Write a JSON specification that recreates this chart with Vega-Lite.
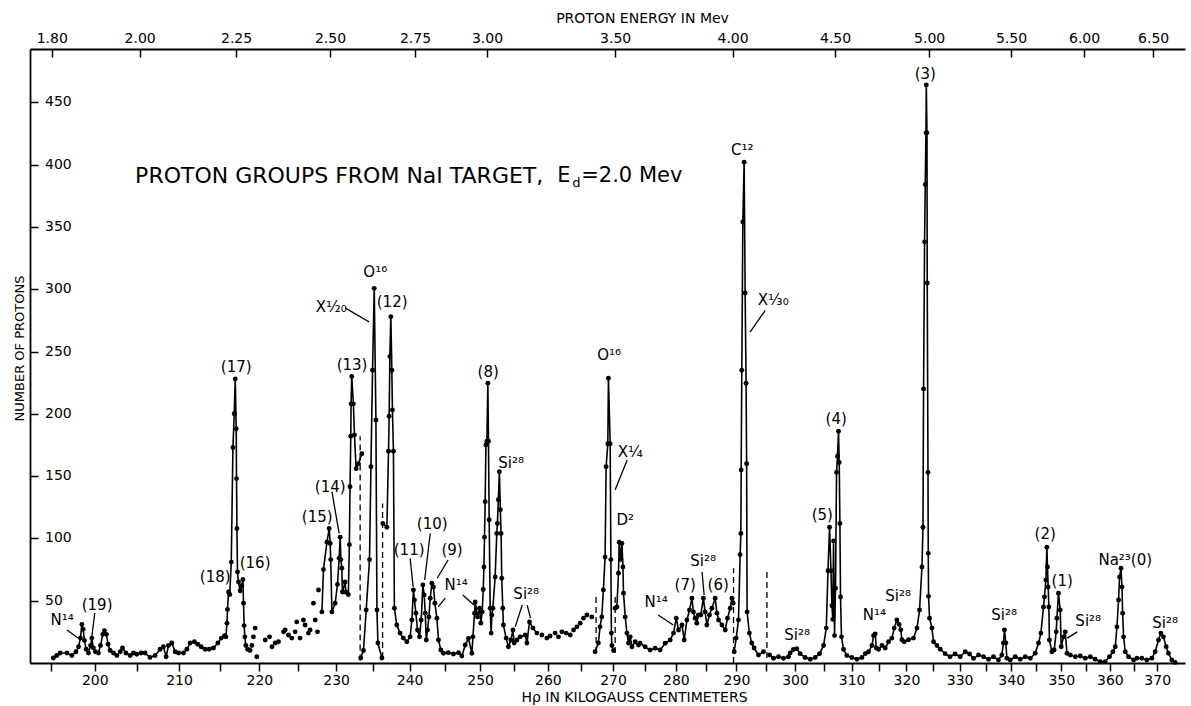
{
"$schema": "https://vega.github.io/schema/vega-lite/v6.json",
"width": 1155, "height": 614,
"autosize": {"type": "none"},
"padding": {"left": 30, "top": 49, "right": 6, "bottom": 43},
"background": "white",
"config": {"view": {"stroke": null}, "font": "DejaVu Sans",
 "axis": {"grid": false, "domainColor": "black", "tickColor": "black", "labelColor": "black", "titleColor": "black", "labelFont": "DejaVu Sans", "titleFont": "DejaVu Sans", "titleFontWeight": "normal", "domainWidth": 1.8, "tickWidth": 1.5, "labelFlush": false, "labelOverlap": false},
 "text": {"font": "DejaVu Sans", "color": "black"}},
"datasets": {
"spec": [
{"H":195.26,"n":4,"s":1},{"H":195.65,"n":6,"s":1},{"H":196.03,"n":8,"s":1},{"H":196.80,"n":8,"s":1},{"H":197.37,"n":6,"s":1},{"H":197.83,"n":9,"s":1},{"H":198.13,"n":13,"s":1},{"H":198.35,"n":20,"s":1},{"H":198.52,"n":31,"s":1},{"H":198.66,"n":27,"s":1},{"H":198.81,"n":18,"s":1},{"H":199.01,"n":11,"s":1},{"H":199.27,"n":8,"s":1},{"H":199.52,"n":14,"s":1},{"H":199.66,"n":20,"s":1},{"H":199.84,"n":12,"s":1},{"H":200.07,"n":9,"s":1},{"H":200.42,"n":8,"s":1},{"H":200.67,"n":14,"s":1},{"H":200.93,"n":23,"s":1},{"H":201.12,"n":26,"s":1},{"H":201.35,"n":23,"s":1},{"H":201.55,"n":15,"s":1},{"H":201.79,"n":10,"s":1},{"H":202.18,"n":8,"s":1},{"H":202.58,"n":6,"s":1},{"H":202.97,"n":9,"s":1},{"H":203.24,"n":12,"s":1},{"H":203.64,"n":8,"s":1},{"H":204.14,"n":6,"s":1},{"H":204.53,"n":8,"s":1},{"H":204.93,"n":7,"s":1},{"H":205.44,"n":8,"s":1},{"H":205.91,"n":8,"s":1},{"H":206.50,"n":4.5,"s":1},{"H":207.11,"n":6,"s":1},{"H":207.71,"n":11,"s":1},{"H":208.11,"n":13,"s":1},{"H":208.44,"n":5,"s":1},{"H":208.72,"n":14,"s":1},{"H":209.13,"n":16,"s":1},{"H":209.54,"n":9,"s":1},{"H":209.94,"n":8,"s":1},{"H":210.54,"n":8,"s":1},{"H":210.96,"n":11,"s":1},{"H":211.36,"n":16,"s":1},{"H":211.88,"n":17,"s":1},{"H":212.29,"n":15,"s":1},{"H":212.70,"n":13,"s":1},{"H":213.20,"n":11,"s":1},{"H":213.70,"n":11,"s":1},{"H":214.23,"n":12,"s":1},{"H":214.78,"n":16,"s":1},{"H":215.20,"n":20,"s":1},{"H":215.61,"n":22,"s":1},{"H":215.78,"n":21,"s":1},{"H":215.91,"n":32,"s":1},{"H":215.98,"n":43,"s":1},{"H":216.11,"n":57,"s":1},{"H":216.26,"n":55,"s":1},{"H":216.45,"n":81,"s":1},{"H":216.66,"n":173,"s":1},{"H":216.82,"n":200,"s":1},{"H":216.95,"n":228,"s":1},{"H":217.07,"n":188,"s":1},{"H":217.11,"n":148,"s":1},{"H":217.16,"n":108,"s":1},{"H":217.23,"n":73,"s":1},{"H":217.36,"n":65,"s":1},{"H":217.57,"n":58,"s":1},{"H":217.78,"n":62,"s":1},{"H":217.91,"n":67,"s":1},{"H":217.99,"n":48,"s":1},{"H":218.07,"n":30,"s":1},{"H":218.16,"n":21,"s":1},{"H":218.28,"n":14,"s":1},{"H":218.51,"n":11,"s":1},{"H":218.82,"n":10,"s":1},
{"H":219.04,"n":14,"s":0},{"H":219.24,"n":21,"s":0},{"H":219.46,"n":28,"s":0},{"H":219.68,"n":5,"s":0},{"H":220.75,"n":18.5,"s":0},{"H":221.30,"n":21,"s":0},{"H":221.61,"n":13,"s":0},{"H":222.03,"n":16,"s":0},{"H":222.45,"n":17,"s":0},{"H":223.10,"n":25,"s":0},{"H":223.31,"n":26.5,"s":0},{"H":223.74,"n":22.5,"s":0},{"H":224.17,"n":20,"s":0},{"H":224.60,"n":25,"s":0},{"H":224.82,"n":33,"s":0},{"H":225.24,"n":20,"s":0},{"H":225.68,"n":34.5,"s":0},{"H":225.90,"n":30.5,"s":0},{"H":226.34,"n":24,"s":0},{"H":226.56,"n":26.5,"s":0},{"H":227.00,"n":48,"s":0},{"H":227.23,"n":34.5,"s":0},{"H":227.53,"n":25,"s":0},{"H":227.66,"n":58.6,"s":0},
{"H":228.11,"n":41,"s":2},{"H":228.32,"n":75,"s":2},{"H":228.78,"n":97,"s":2},{"H":229.08,"n":108,"s":2},{"H":229.21,"n":96,"s":2},{"H":229.28,"n":83,"s":2},{"H":229.44,"n":41,"s":2},{"H":229.87,"n":48,"s":2},{"H":230.18,"n":63,"s":2},{"H":230.40,"n":84,"s":2},{"H":230.54,"n":101,"s":2},{"H":230.63,"n":83,"s":2},{"H":230.76,"n":76,"s":2},{"H":230.84,"n":57,"s":2},{"H":231.20,"n":65,"s":2},{"H":231.29,"n":57,"s":2},{"H":231.63,"n":55,"s":2},{"H":231.77,"n":95,"s":2},{"H":231.86,"n":141.5,"s":2},{"H":231.96,"n":182,"s":2},{"H":232.00,"n":208,"s":2},{"H":232.09,"n":230,"s":2},{"H":232.31,"n":208,"s":2},{"H":232.45,"n":183,"s":2},{"H":232.68,"n":156,"s":2},{"H":232.99,"n":160,"s":2},{"H":233.45,"n":168,"s":2},
{"H":233.29,"n":4,"s":3},{"H":233.67,"n":10,"s":3},{"H":234.04,"n":42.5,"s":3},{"H":234.49,"n":83,"s":3},{"H":234.68,"n":157.5,"s":3},{"H":234.90,"n":235,"s":3},{"H":235.13,"n":300.7,"s":3},{"H":235.36,"n":195,"s":3},{"H":235.50,"n":42.5,"s":3},{"H":235.63,"n":16,"s":3},{"H":236.18,"n":4,"s":3},
{"H":236.31,"n":112,"s":4},{"H":236.86,"n":109,"s":4},{"H":237.08,"n":170,"s":4},{"H":237.17,"n":198,"s":4},{"H":237.27,"n":246,"s":4},{"H":237.40,"n":278,"s":4},{"H":237.54,"n":235,"s":4},{"H":237.62,"n":203,"s":4},{"H":237.76,"n":170,"s":4},{"H":237.89,"n":44,"s":4},{"H":238.22,"n":30.5,"s":4},{"H":238.67,"n":24,"s":4},{"H":239.13,"n":20,"s":4},{"H":239.61,"n":17,"s":4},{"H":240.07,"n":21,"s":4},{"H":240.31,"n":34.5,"s":4},{"H":240.53,"n":58.6,"s":4},{"H":240.67,"n":50.6,"s":4},{"H":240.87,"n":40,"s":4},{"H":241.10,"n":26.5,"s":4},{"H":241.38,"n":21,"s":4},{"H":241.61,"n":34.5,"s":4},{"H":241.85,"n":62.6,"s":4},{"H":242.03,"n":54.6,"s":4},{"H":242.18,"n":40,"s":4},{"H":242.32,"n":18.5,"s":4},{"H":242.50,"n":26.5,"s":4},{"H":242.69,"n":37,"s":4},{"H":242.88,"n":52,"s":4},{"H":243.11,"n":64,"s":4},{"H":243.34,"n":61,"s":4},{"H":243.53,"n":48,"s":4},{"H":243.82,"n":36,"s":4},{"H":244.04,"n":18.5,"s":4},{"H":244.38,"n":10.4,"s":4},{"H":244.74,"n":7.8,"s":4},{"H":245.44,"n":8.3,"s":4},{"H":246.16,"n":7.2,"s":4},{"H":246.88,"n":8.3,"s":4},{"H":247.37,"n":5.6,"s":4},{"H":247.85,"n":14.4,"s":4},{"H":248.32,"n":19.8,"s":4},{"H":248.81,"n":7.8,"s":4},{"H":248.96,"n":21,"s":4},{"H":249.19,"n":40,"s":4},{"H":249.29,"n":49,"s":4},{"H":249.62,"n":37,"s":4},{"H":249.91,"n":44,"s":4},{"H":250.11,"n":32,"s":4},{"H":250.30,"n":41,"s":4},{"H":250.45,"n":59,"s":4},{"H":250.55,"n":77,"s":4},{"H":250.63,"n":101,"s":4},{"H":250.73,"n":129.5,"s":4},{"H":250.84,"n":175,"s":4},{"H":250.98,"n":178,"s":4},{"H":251.12,"n":224.5,"s":4},{"H":251.21,"n":178,"s":4},{"H":251.31,"n":115,"s":4},{"H":251.46,"n":44,"s":4},{"H":251.60,"n":24,"s":4},{"H":251.70,"n":38.5,"s":4},{"H":251.85,"n":44,"s":4},{"H":252.18,"n":69,"s":4},{"H":252.42,"n":104,"s":4},{"H":252.51,"n":112,"s":4},{"H":252.65,"n":131,"s":4},{"H":252.80,"n":153.5,"s":4},{"H":252.94,"n":123,"s":4},{"H":253.05,"n":104,"s":4},{"H":253.15,"n":68,"s":4},{"H":253.30,"n":44,"s":4},{"H":253.39,"n":30.5,"s":4},{"H":253.79,"n":20,"s":4},{"H":254.13,"n":13,"s":4},{"H":254.49,"n":18.5,"s":4},{"H":254.79,"n":26.5,"s":4},{"H":254.98,"n":16,"s":4},{"H":255.38,"n":18.5,"s":4},{"H":255.87,"n":21,"s":4},{"H":256.62,"n":22.5,"s":4},{"H":256.87,"n":16,"s":4},{"H":257.25,"n":33,"s":4},{"H":257.76,"n":28,"s":4},{"H":258.35,"n":24,"s":4},
{"H":259.10,"n":22.5,"s":0},{"H":259.84,"n":20,"s":0},{"H":260.33,"n":21.7,"s":0},{"H":261.09,"n":24,"s":0},{"H":261.60,"n":21,"s":0},{"H":262.12,"n":25,"s":0},{"H":262.77,"n":24,"s":0},{"H":263.39,"n":22.5,"s":0},{"H":263.89,"n":26.5,"s":0},{"H":264.41,"n":29,"s":0},{"H":264.91,"n":32,"s":0},{"H":265.42,"n":36,"s":0},{"H":265.94,"n":38.5,"s":0},{"H":266.70,"n":37,"s":0},
{"H":267.21,"n":9,"s":5},{"H":267.71,"n":16,"s":5},{"H":267.97,"n":29,"s":5},{"H":268.24,"n":37,"s":5},{"H":268.49,"n":58.6,"s":5},{"H":268.76,"n":85,"s":5},{"H":268.92,"n":157.5,"s":5},{"H":269.18,"n":176,"s":5},{"H":269.28,"n":228.5,"s":5},{"H":269.55,"n":176,"s":5},{"H":269.66,"n":83,"s":5},{"H":269.74,"n":24,"s":5},{"H":269.82,"n":14,"s":5},{"H":270.07,"n":10,"s":5},
{"H":270.33,"n":44,"s":6},{"H":270.60,"n":45,"s":6},{"H":270.85,"n":72,"s":6},{"H":270.96,"n":97,"s":6},{"H":271.23,"n":83,"s":6},{"H":271.39,"n":96,"s":6},{"H":271.55,"n":77,"s":6},{"H":271.64,"n":56,"s":6},{"H":271.91,"n":37,"s":6},{"H":272.18,"n":24,"s":6},{"H":272.43,"n":16,"s":6},{"H":272.70,"n":21,"s":6},{"H":272.97,"n":13,"s":6},{"H":273.49,"n":17,"s":6},{"H":274.01,"n":14.4,"s":6},{"H":274.27,"n":15.8,"s":6},{"H":275.06,"n":13,"s":6},{"H":275.85,"n":10.4,"s":6},{"H":276.66,"n":11.8,"s":6},{"H":277.47,"n":10.4,"s":6},{"H":278.28,"n":15.8,"s":6},{"H":279.09,"n":18.5,"s":6},{"H":279.62,"n":24,"s":6},{"H":280.06,"n":36,"s":6},{"H":280.43,"n":26.5,"s":6},{"H":280.99,"n":30.5,"s":6},{"H":281.36,"n":18.5,"s":6},{"H":281.80,"n":34.5,"s":6},{"H":282.22,"n":42.5,"s":6},{"H":282.61,"n":52,"s":6},{"H":282.86,"n":41,"s":6},{"H":283.14,"n":36,"s":6},{"H":283.42,"n":32,"s":6},{"H":283.67,"n":38.5,"s":6},{"H":284.07,"n":38.5,"s":6},{"H":284.50,"n":52,"s":6},{"H":284.78,"n":41,"s":6},{"H":285.07,"n":30.5,"s":6},{"H":285.50,"n":38.5,"s":6},{"H":285.90,"n":44,"s":6},{"H":286.45,"n":52,"s":6},{"H":286.74,"n":40,"s":6},{"H":287.00,"n":34.5,"s":6},{"H":287.57,"n":30.5,"s":6},{"H":288.12,"n":26.5,"s":6},{"H":288.50,"n":36,"s":6},{"H":288.95,"n":44,"s":6},{"H":289.24,"n":52,"s":6},{"H":289.45,"n":48,"s":6},
{"H":289.62,"n":9,"s":7},{"H":289.95,"n":20,"s":7},{"H":290.34,"n":34.5,"s":7},{"H":290.62,"n":87,"s":7},{"H":290.74,"n":104,"s":7},{"H":290.79,"n":155,"s":7},{"H":290.90,"n":235,"s":7},{"H":291.07,"n":354,"s":7},{"H":291.29,"n":402,"s":7},{"H":291.46,"n":297,"s":7},{"H":291.62,"n":224.5,"s":7},{"H":291.71,"n":160,"s":7},{"H":291.79,"n":41,"s":7},{"H":292.17,"n":24,"s":7},{"H":292.58,"n":16,"s":7},{"H":292.98,"n":12,"s":7},{"H":293.72,"n":6.4,"s":7},{"H":294.57,"n":9,"s":7},
{"H":295.61,"n":6.4,"s":8},{"H":296.29,"n":3.8,"s":8},{"H":297.15,"n":5,"s":8},{"H":298.01,"n":3.8,"s":8},{"H":298.87,"n":5,"s":8},{"H":299.16,"n":8,"s":8},{"H":299.73,"n":10.8,"s":8},{"H":300.31,"n":11.5,"s":8},{"H":300.88,"n":7.5,"s":8},{"H":301.76,"n":4.4,"s":8},{"H":302.65,"n":3,"s":8},{"H":303.53,"n":4.4,"s":8},{"H":304.29,"n":7.5,"s":8},{"H":305.00,"n":14,"s":8},{"H":305.48,"n":28,"s":8},{"H":305.78,"n":74,"s":8},{"H":306.06,"n":109,"s":8},{"H":306.31,"n":74,"s":8},{"H":306.48,"n":46,"s":8},{"H":306.63,"n":35,"s":8},{"H":306.77,"n":98,"s":8},{"H":306.94,"n":22,"s":8},{"H":307.12,"n":60,"s":8},{"H":307.30,"n":153,"s":8},{"H":307.47,"n":166,"s":8},{"H":307.65,"n":186,"s":8},{"H":307.78,"n":161,"s":8},{"H":307.90,"n":112,"s":8},{"H":308.01,"n":53,"s":8},{"H":308.18,"n":21,"s":8},{"H":308.54,"n":11,"s":8},{"H":309.14,"n":6,"s":8},{"H":310.03,"n":4.4,"s":8},{"H":310.94,"n":3,"s":8},{"H":311.85,"n":4.4,"s":8},{"H":312.45,"n":7.5,"s":8},{"H":313.05,"n":9,"s":8},{"H":313.67,"n":14,"s":8},{"H":313.96,"n":22,"s":8},{"H":314.27,"n":23.4,"s":8},{"H":314.45,"n":12,"s":8},{"H":314.87,"n":11,"s":8},{"H":315.49,"n":14,"s":8},{"H":316.09,"n":12,"s":8},{"H":316.69,"n":17,"s":8},{"H":317.31,"n":20,"s":8},{"H":317.73,"n":28,"s":8},{"H":318.22,"n":34.5,"s":8},{"H":318.64,"n":31,"s":8},{"H":318.95,"n":26.6,"s":8},{"H":319.14,"n":18.7,"s":8},{"H":319.57,"n":17,"s":8},{"H":320.37,"n":18.7,"s":8},{"H":321.31,"n":20,"s":8},{"H":321.95,"n":28,"s":8},{"H":322.43,"n":42.5,"s":8},{"H":322.88,"n":77,"s":8},{"H":323.07,"n":109,"s":8},{"H":323.18,"n":220,"s":8},{"H":323.37,"n":338,"s":8},{"H":323.50,"n":384,"s":8},{"H":323.63,"n":425.5,"s":8},{"H":323.69,"n":464,"s":8},{"H":323.82,"n":425.5,"s":8},{"H":323.87,"n":305,"s":8},{"H":324.01,"n":153,"s":8},{"H":324.06,"n":88,"s":8},{"H":324.12,"n":53.5,"s":8},{"H":324.30,"n":36,"s":8},{"H":324.75,"n":28,"s":8},{"H":325.05,"n":17,"s":8},{"H":325.69,"n":14,"s":8},{"H":326.31,"n":11,"s":8},{"H":327.24,"n":7.5,"s":8},{"H":328.18,"n":5,"s":8},{"H":329.14,"n":7.2,"s":8},{"H":330.11,"n":5,"s":8},{"H":331.07,"n":9,"s":8},{"H":331.90,"n":7.2,"s":8},{"H":332.67,"n":3.7,"s":8},{"H":333.64,"n":6.4,"s":8},{"H":334.60,"n":5,"s":8},{"H":335.56,"n":3,"s":8},{"H":336.53,"n":5,"s":8},{"H":337.49,"n":2.4,"s":8},{"H":338.16,"n":6.4,"s":8},{"H":338.48,"n":16,"s":8},{"H":338.68,"n":26.5,"s":8},{"H":338.95,"n":16,"s":8},{"H":339.15,"n":3.8,"s":8},{"H":339.81,"n":2.4,"s":8},{"H":340.80,"n":5,"s":8},{"H":341.79,"n":3,"s":8},{"H":342.79,"n":5,"s":8},{"H":343.78,"n":3.8,"s":8},{"H":344.77,"n":7.8,"s":8},{"H":345.43,"n":16,"s":8},{"H":345.90,"n":24,"s":8},{"H":346.42,"n":45,"s":8},{"H":346.62,"n":53,"s":8},{"H":346.90,"n":66.6,"s":8},{"H":347.10,"n":93,"s":8},{"H":347.22,"n":77,"s":8},{"H":347.36,"n":61,"s":8},{"H":347.50,"n":45,"s":8},{"H":347.61,"n":18.5,"s":8},{"H":348.10,"n":9,"s":8},{"H":348.57,"n":10.4,"s":8},{"H":348.98,"n":25,"s":8},{"H":349.12,"n":36,"s":8},{"H":349.44,"n":56,"s":8},{"H":349.79,"n":42.5,"s":8},{"H":349.99,"n":13,"s":8},{"H":350.47,"n":21,"s":8},{"H":350.81,"n":25,"s":8},{"H":351.16,"n":7.8,"s":8},{"H":351.83,"n":6.4,"s":8},{"H":352.86,"n":5,"s":8},{"H":353.88,"n":5.6,"s":8},{"H":354.90,"n":3.8,"s":8},{"H":355.93,"n":5,"s":8},{"H":356.94,"n":3,"s":8},{"H":357.96,"n":1,"s":8},{"H":359.01,"n":1,"s":8},{"H":359.92,"n":5,"s":8},{"H":360.63,"n":9,"s":8},{"H":361.12,"n":13,"s":8},{"H":361.47,"n":29,"s":8},{"H":361.81,"n":50.6,"s":8},{"H":362.02,"n":69,"s":8},{"H":362.32,"n":76,"s":8},{"H":362.53,"n":61,"s":8},{"H":362.66,"n":40,"s":8},{"H":362.86,"n":21,"s":8},{"H":363.22,"n":9,"s":8},{"H":363.91,"n":5,"s":8},{"H":364.97,"n":2.4,"s":8},{"H":365.68,"n":3.8,"s":8},{"H":366.73,"n":3.8,"s":8},{"H":367.79,"n":2.4,"s":8},{"H":368.85,"n":3.8,"s":8},{"H":369.56,"n":9,"s":8},{"H":370.27,"n":18.5,"s":8},{"H":370.78,"n":24,"s":8},{"H":371.34,"n":21,"s":8},{"H":371.92,"n":13,"s":8},{"H":372.41,"n":7.8,"s":8},{"H":373.14,"n":2.4,"s":8},{"H":373.85,"n":0.5,"s":8}
],
"dashes": [
{"H":233.22,"n":2,"n2":182},{"H":236.27,"n":4,"n2":128},{"H":267.36,"n":8,"n2":53},{"H":270.33,"n":8,"n2":56},{"H":289.51,"n":0,"n2":76},{"H":295.16,"n":4,"n2":75}
],
"pointers": [
{"H":196.8,"n":26.5,"H2":198.13,"n2":19.8},{"H":200.0,"n":40,"H2":199.66,"n2":21},{"H":229.44,"n":137.5,"H2":230.4,"n2":104},{"H":231.2,"n":285,"H2":234.45,"n2":273.7},{"H":240.07,"n":84,"H2":240.49,"n2":61},{"H":242.88,"n":104,"H2":242.1,"n2":66.6},{"H":245.4,"n":82.7,"H2":243.86,"n2":68},{"H":247.5,"n":54.6,"H2":249.1,"n2":46.5},{"H":245.0,"n":52,"H2":244.0,"n2":45},{"H":256.17,"n":46.5,"H2":255.13,"n2":29},{"H":256.9,"n":46.5,"H2":257.4,"n2":36},{"H":272.22,"n":163,"H2":270.33,"n2":139},{"H":277.15,"n":38.5,"H2":279.58,"n2":30.5},{"H":284.28,"n":73,"H2":284.62,"n2":54.6},{"H":294.87,"n":283,"H2":292.29,"n2":265.6},{"H":353.26,"n":25,"H2":351.22,"n2":20}
],
"labels": [
{"H":196.26,"n":34.5,"t":"N¹⁴"},{"H":200.27,"n":46.5,"t":"(19)"},{"H":214.45,"n":69,"t":"(18)"},{"H":217.07,"n":237.6,"t":"(17)"},{"H":219.46,"n":80.3,"t":"(16)"},{"H":227.49,"n":117.2,"t":"(15)"},{"H":229.21,"n":141.3,"t":"(14)"},{"H":232.13,"n":239.2,"t":"(13)"},{"H":235.27,"n":313.8,"t":"O¹⁶"},{"H":229.35,"n":285.7,"t":"X¹⁄₂₀"},{"H":237.58,"n":289.7,"t":"(12)"},{"H":239.93,"n":90.7,"t":"(11)"},{"H":243.16,"n":111.6,"t":"(10)"},{"H":245.97,"n":90.7,"t":"(9)"},{"H":246.55,"n":62.6,"t":"N¹⁴"},{"H":251.17,"n":233.5,"t":"(8)"},{"H":254.53,"n":160.5,"t":"Si²⁸"},{"H":256.76,"n":55.4,"t":"Si²⁸"},{"H":269.39,"n":247.2,"t":"O¹⁶"},{"H":272.7,"n":169.3,"t":"X¹⁄₄"},{"H":271.91,"n":114.8,"t":"D²"},{"H":276.82,"n":49,"t":"N¹⁴"},{"H":281.52,"n":62.6,"t":"(7)"},{"H":284.45,"n":81.9,"t":"Si²⁸"},{"H":286.95,"n":62.6,"t":"(6)"},{"H":290.96,"n":411.7,"t":"C¹²"},{"H":296.24,"n":291.3,"t":"X¹⁄₃₀"},{"H":300.36,"n":22.5,"t":"Si²⁸"},{"H":304.77,"n":118.8,"t":"(5)"},{"H":307.24,"n":195.8,"t":"(4)"},{"H":314.09,"n":38.5,"t":"N¹⁴"},{"H":318.46,"n":53.8,"t":"Si²⁸"},{"H":323.5,"n":472.7,"t":"(3)"},{"H":338.61,"n":38.5,"t":"Si²⁸"},{"H":346.76,"n":103.5,"t":"(2)"},{"H":350.2,"n":65.8,"t":"(1)"},{"H":355.51,"n":33.7,"t":"Si²⁸"},{"H":363.22,"n":82.7,"t":"Na²³(0)"},{"H":371.7,"n":32.1,"t":"Si²⁸"}
],
"ylabels": [
{"n":50,"t":"50"},{"n":100,"t":"100"},{"n":150,"t":"150"},{"n":200,"t":"200"},{"n":250,"t":"250"},{"n":300,"t":"300"},{"n":350,"t":"350"},{"n":400,"t":"400"},{"n":450,"t":"450"}
],
"title": [
{"H":204.73,"n":390.9,"t":"PROTON GROUPS FROM NaI TARGET,"}
],
"title2": [
{"H":261.40,"n":390.9,"t":"E"},{"H":265.07,"n":390.9,"t":"=2.0 Mev"}
],
"sub": [
{"H":263.70,"n":385.2,"t":"d"}
]
},
"resolve": {"axis": {"x": "independent", "y": "independent"}},
"layer": [
{"data": {"name": "spec"},
 "transform": [{"filter": "datum.s > 0"}],
 "mark": {"type": "line", "color": "black", "strokeWidth": 1.6},
 "encoding": {
  "x": {"field": "H", "type": "quantitative",
   "scale": {"type": "log", "domain": [192.64, 376], "nice": false, "zero": false},
   "axis": {"orient": "bottom", "values": [195,200,205,210,215,220,225,230,235,240,245,250,255,260,265,270,275,280,285,290,295,300,305,310,315,320,325,330,335,340,345,350,355,360,365,370],
    "labelExpr": "datum.value % 10 == 0 ? format(datum.value, 'd') : ''",
    "tickSize": 8, "labelPadding": 2, "labelFontSize": 14,
    "title": "Hρ IN KILOGAUSS CENTIMETERS", "titleFontSize": 14, "titleX": 604, "titleY": 34, "titleBaseline": "middle"}},
  "y": {"field": "n", "type": "quantitative",
   "scale": {"domain": [0, 492.8], "nice": false},
   "axis": {"orient": "left", "values": [50,100,150,200,250,300,350,400,450], "tickSize": -8, "labels": false,
    "title": "NUMBER OF PROTONS", "titleFontSize": 13, "titleX": -11, "titleY": 299, "titleBaseline": "middle"}},
  "detail": {"field": "s", "type": "nominal"}
 }},
{"data": {"name": "spec"},
 "mark": {"type": "circle", "color": "black", "size": 24, "opacity": 1},
 "encoding": {
  "x": {"field": "H", "type": "quantitative", "axis": null},
  "y": {"field": "n", "type": "quantitative", "axis": null}
 }},
{"data": {"name": "ylabels"},
 "mark": {"type": "text", "fontSize": 14, "align": "left", "baseline": "middle"},
 "encoding": {
  "x": {"datum": 194.32, "type": "quantitative", "axis": null},
  "y": {"field": "n", "type": "quantitative", "axis": null},
  "text": {"field": "t"}
 }},
{"data": {"name": "dashes"},
 "mark": {"type": "rule", "color": "black", "strokeWidth": 1.3, "strokeDash": [6, 4]},
 "encoding": {
  "x": {"field": "H", "type": "quantitative",
   "axis": {"orient": "top", "values": [195.08, 205.27, 217.05, 229.19, 240.75, 251.0, 270.32, 289.35, 307.04, 324.22, 339.98, 354.66, 369.12],
    "labelExpr": "datum.value < 200 ? '1.80' : datum.value < 210 ? '2.00' : datum.value < 220 ? '2.25' : datum.value < 235 ? '2.50' : datum.value < 245 ? '2.75' : datum.value < 260 ? '3.00' : datum.value < 280 ? '3.50' : datum.value < 300 ? '4.00' : datum.value < 315 ? '4.50' : datum.value < 330 ? '5.00' : datum.value < 345 ? '5.50' : datum.value < 360 ? '6.00' : '6.50'",
    "tickSize": -8, "labelPadding": 12, "labelFontSize": 14,
    "title": "PROTON ENERGY IN Mev", "titleFontSize": 14, "titleX": 612, "titleY": -31, "titleBaseline": "middle"}},
  "y": {"field": "n", "type": "quantitative", "axis": null},
  "y2": {"field": "n2"}
 }},
{"data": {"name": "pointers"},
 "mark": {"type": "rule", "color": "black", "strokeWidth": 1.3},
 "encoding": {
  "x": {"field": "H", "type": "quantitative", "axis": null},
  "y": {"field": "n", "type": "quantitative", "axis": null},
  "x2": {"field": "H2"},
  "y2": {"field": "n2"}
 }},
{"data": {"name": "labels"},
 "mark": {"type": "text", "fontSize": 15, "align": "center", "baseline": "middle"},
 "encoding": {
  "x": {"field": "H", "type": "quantitative", "axis": null},
  "y": {"field": "n", "type": "quantitative", "axis": null},
  "text": {"field": "t"}
 }},
{"data": {"name": "title"},
 "mark": {"type": "text", "fontSize": 22, "align": "left", "baseline": "middle"},
 "encoding": {
  "x": {"field": "H", "type": "quantitative", "axis": null},
  "y": {"field": "n", "type": "quantitative", "axis": null},
  "text": {"field": "t"}
 }},
{"data": {"name": "title2"},
 "mark": {"type": "text", "fontSize": 21, "align": "left", "baseline": "middle"},
 "encoding": {
  "x": {"field": "H", "type": "quantitative", "axis": null},
  "y": {"field": "n", "type": "quantitative", "axis": null},
  "text": {"field": "t"}
 }},
{"data": {"name": "sub"},
 "mark": {"type": "text", "fontSize": 13, "align": "left", "baseline": "middle"},
 "encoding": {
  "x": {"field": "H", "type": "quantitative", "axis": null},
  "y": {"field": "n", "type": "quantitative", "axis": null},
  "text": {"field": "t"}
 }}
]
}
